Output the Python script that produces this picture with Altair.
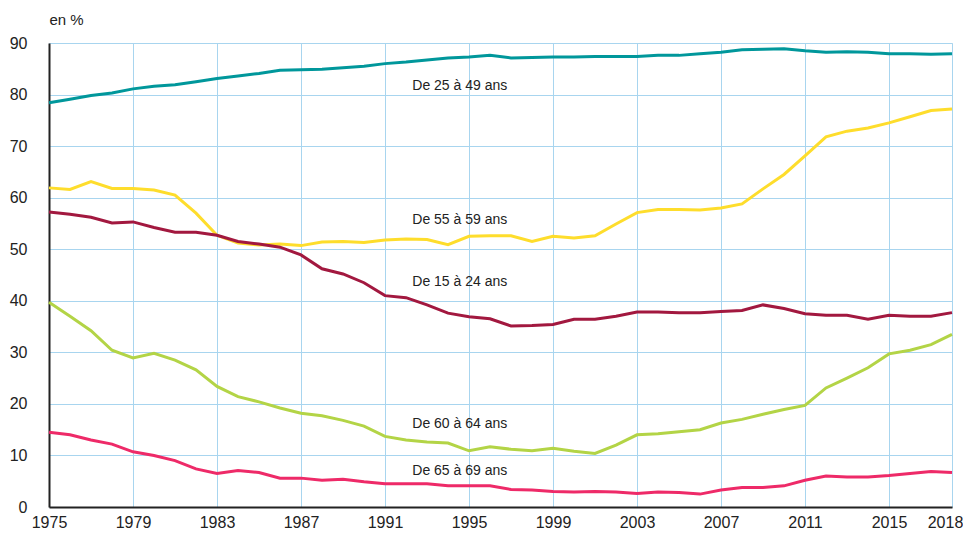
import altair as alt
import pandas as pd

years = list(range(1975, 2019))

s_25_49 = [78.4, 79.1, 79.8, 80.3, 81.1, 81.6, 81.9, 82.5, 83.1, 83.6, 84.1, 84.7, 84.8, 84.9, 85.2,
           85.5, 86.0, 86.3, 86.7, 87.1, 87.3, 87.6, 87.1, 87.2, 87.3, 87.3, 87.4, 87.4, 87.4, 87.6,
           87.6, 87.9, 88.2, 88.7, 88.8, 88.9, 88.5, 88.2, 88.3, 88.2, 87.9, 87.9, 87.8, 87.9]
s_55_59 = [61.9, 61.6, 63.1, 61.8, 61.8, 61.5, 60.5, 57.0, 52.7, 51.2, 50.8, 51.0, 50.7, 51.4, 51.5,
           51.3, 51.8, 52.0, 51.9, 50.9, 52.5, 52.6, 52.6, 51.5, 52.5, 52.2, 52.6, 54.9, 57.1, 57.7,
           57.7, 57.6, 58.0, 58.8, 61.7, 64.5, 68.1, 71.8, 72.9, 73.5, 74.5, 75.7, 76.9, 77.2]
s_15_24 = [57.2, 56.8, 56.2, 55.1, 55.3, 54.2, 53.3, 53.3, 52.7, 51.5, 51.0, 50.4, 48.9, 46.2, 45.2,
           43.5, 41.0, 40.6, 39.2, 37.6, 36.9, 36.5, 35.1, 35.2, 35.4, 36.4, 36.4, 37.0, 37.8, 37.8,
           37.7, 37.7, 37.9, 38.1, 39.2, 38.5, 37.5, 37.2, 37.2, 36.4, 37.2, 37.0, 37.0, 37.7]
s_60_64 = [39.7, 37.0, 34.2, 30.4, 28.9, 29.8, 28.5, 26.6, 23.4, 21.4, 20.4, 19.2, 18.2, 17.7, 16.8,
           15.7, 13.7, 13.0, 12.6, 12.4, 10.9, 11.7, 11.2, 10.9, 11.4, 10.8, 10.4, 12.0, 14.0, 14.2,
           14.6, 15.0, 16.3, 17.0, 18.0, 18.9, 19.7, 23.1, 25.0, 27.0, 29.7, 30.4, 31.5, 33.5]
s_65_69 = [14.5, 14.0, 13.0, 12.2, 10.7, 10.0, 9.0, 7.4, 6.5, 7.1, 6.7, 5.6, 5.6, 5.2, 5.4,
           4.9, 4.5, 4.5, 4.5, 4.1, 4.1, 4.1, 3.4, 3.3, 3.0, 2.9, 3.0, 2.9, 2.6, 2.9,
           2.8, 2.5, 3.3, 3.8, 3.8, 4.1, 5.2, 6.0, 5.8, 5.8, 6.1, 6.5, 6.9, 6.7]

series_names = ["De 25 à 49 ans", "De 55 à 59 ans", "De 15 à 24 ans", "De 60 à 64 ans", "De 65 à 69 ans"]
series_values = [s_25_49, s_55_59, s_15_24, s_60_64, s_65_69]
series_colors = ["#00979b", "#fedd2c", "#a2183f", "#b3d446", "#ee2a68"]

label_year = [1992.3] * 5
label_value = [81.7, 55.7, 43.7, 16.1, 7.0]

x_ticks = [1975, 1979, 1983, 1987, 1991, 1995, 1999, 2003, 2007, 2011, 2015, 2018]
y_ticks = [0, 10, 20, 30, 40, 50, 60, 70, 80, 90]

rows = []
for name, vals in zip(series_names, series_values):
    for yr, v in zip(years, vals):
        rows.append({"annee": yr, "taux": v, "groupe": name})
df = pd.DataFrame(rows)
labels = pd.DataFrame({"annee": label_year, "taux": label_value, "groupe": series_names})

FONT = "Liberation Sans, Arial, sans-serif"
GRID = "#a8d5ef"
INK = "#222222"

x = alt.X("annee:Q", scale=alt.Scale(domain=[1975, 2018], nice=False, zero=False),
          axis=alt.Axis(values=x_ticks, format="d", title=None, grid=True, gridColor=GRID,
                        gridWidth=1, gridOpacity=1, ticks=False, domainColor=INK,
                        domainWidth=2, labelFontSize=16, labelFont=FONT, labelColor=INK,
                        labelPadding=7, labelFlush=False,
                        labelOffset={"condition": {"test": "datum.value === 2018", "value": -7},
                                     "value": 0}))
y = alt.Y("taux:Q", scale=alt.Scale(domain=[0, 90], nice=False),
          axis=alt.Axis(values=y_ticks, title="en %", titleAngle=0, titleAlign="left",
                        titleBaseline="alphabetic", titleX=0, titleY=-19, titleFont=FONT,
                        titleFontSize=15, titleFontWeight="normal", titleColor=INK,
                        grid=True, gridColor=GRID, gridWidth=1, gridOpacity=1, ticks=False,
                        domainColor=INK, domainWidth=2, labelFontSize=16, labelFont=FONT,
                        labelColor=INK, labelPadding=22))

color = alt.Color("groupe:N", scale=alt.Scale(domain=series_names, range=series_colors), legend=None)

lines = alt.Chart(df).mark_line(strokeWidth=3).encode(x=x, y=y, color=color, detail="groupe:N")
texts = alt.Chart(labels).mark_text(align="left", baseline="middle", font=FONT, fontSize=14,
                                    color=INK).encode(x="annee:Q", y="taux:Q", text="groupe:N")

chart = (lines + texts).properties(
    width=903, height=464,
    autosize=alt.AutoSizeParams(type="none"),
    padding={"left": 41, "top": 35, "right": 11, "bottom": 26},
).configure_view(stroke=None).configure(background="white")

chart.save("out.html", embed_options={"renderer": "svg", "actions": False})
